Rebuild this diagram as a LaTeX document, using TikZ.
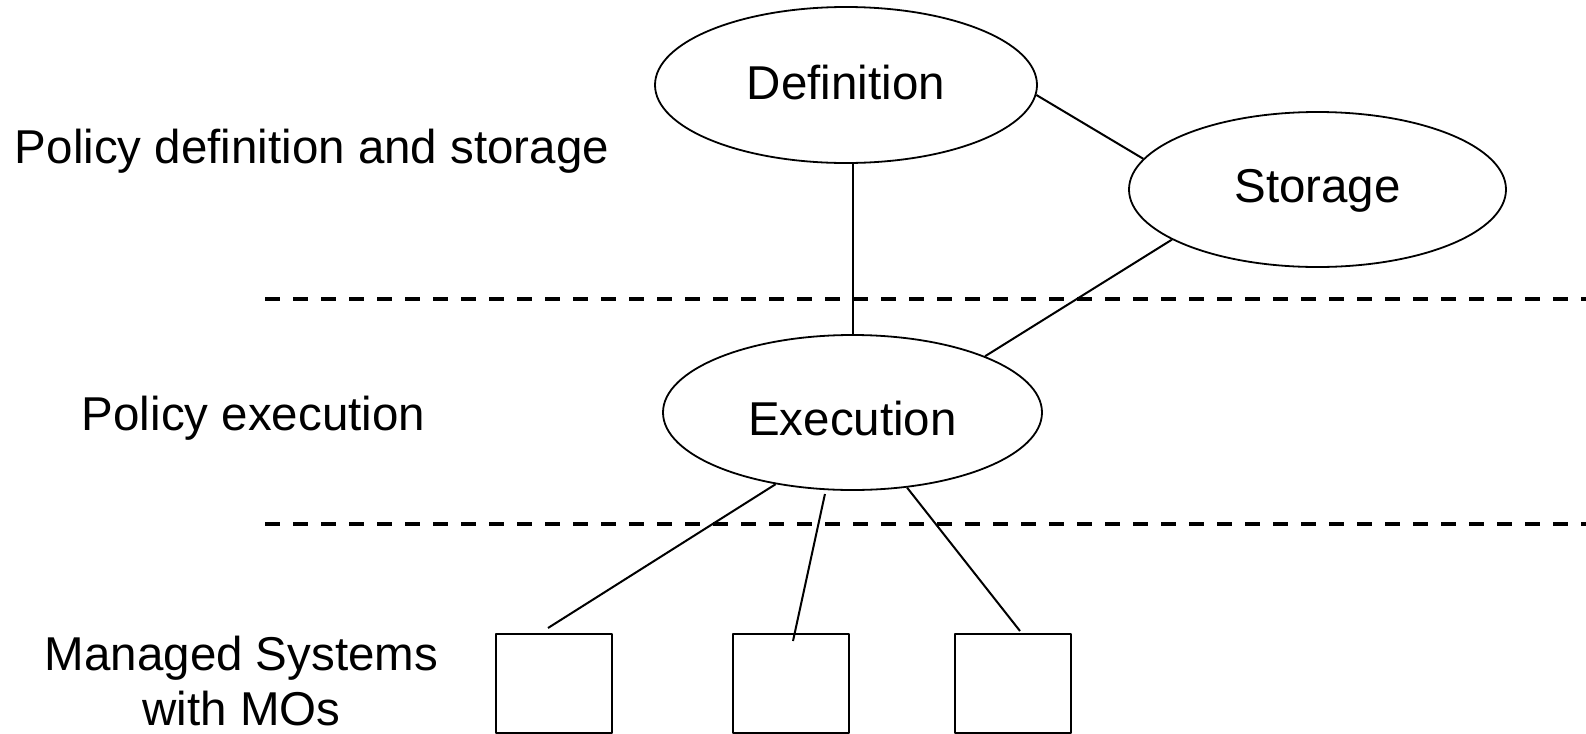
\documentclass[tikz,border=0pt]{standalone}
\usepackage{fontspec}
\setmainfont{Liberation Sans}
\usetikzlibrary{shapes.geometric}
\tikzset{
	phase/.style={ellipse,draw,line width=.9pt,inner sep=0pt,text depth=0pt},
	mobox/.style={draw,line width=1pt,minimum width=58pt,minimum height=49.5pt,inner sep=0pt},
	layer/.style={line width=2pt,dash pattern=on 7.5pt off 6.5pt},
	link/.style={line width=1pt}
}
\begin{document}
\begin{tikzpicture}[x=.5pt,y=-.5pt,line join=round,font=\fontsize{23.75}{27.5}\selectfont]
			\useasboundingbox (0,0) rectangle (1586,734);
			% layers
			\draw[layer] (265,299)--(1586,299);
			\draw[layer] (265,524)--(1586,524);
			\node[anchor=base] (lbldef) at (312,163) {Policy definition and storage};
			\node[anchor=base] (lblexe) at (253.5,430) {Policy execution};
			\node[anchor=base,align=center] (lblms) at (241.5,725) {Managed Systems\\with MOs};
			% phases
			\node[phase,minimum width=191pt,minimum height=78pt,text height=14pt] (def) at (846,85) {Definition};
			\node[phase,minimum width=188.5pt,minimum height=77.5pt,text height=13pt] (stor) at (1317.5,189.5) {Storage};
			\node[phase,minimum width=189.5pt,minimum height=77.5pt,text height=23pt] (exe) at (852.5,412.5) {Execution};
			% managed objects
			\node[mobox] (mo1) at (554,683.5) {};
			\node[mobox] (mo2) at (791,683.5) {};
			\node[mobox] (mo3) at (1012.5,683.5) {};
			\draw[link] (exe.north) -- (exe.north |- def.south);
			\draw[link] (def.-3.6) -- (stor.170);
			\draw[link] (stor.-161.7) -- (exe.23.6);
			\draw[link] (exe.-137.3) -- ([xshift=-3pt,yshift=2.5pt]mo1.north);
			\draw[link,shorten <=2pt] (exe.-109.7) -- ([xshift=1pt,yshift=-4pt]mo2.north);
			\draw[link] (exe.-54.1) -- ([xshift=3.75pt,yshift=1pt]mo3.north);
	\end{tikzpicture}
\end{document}
